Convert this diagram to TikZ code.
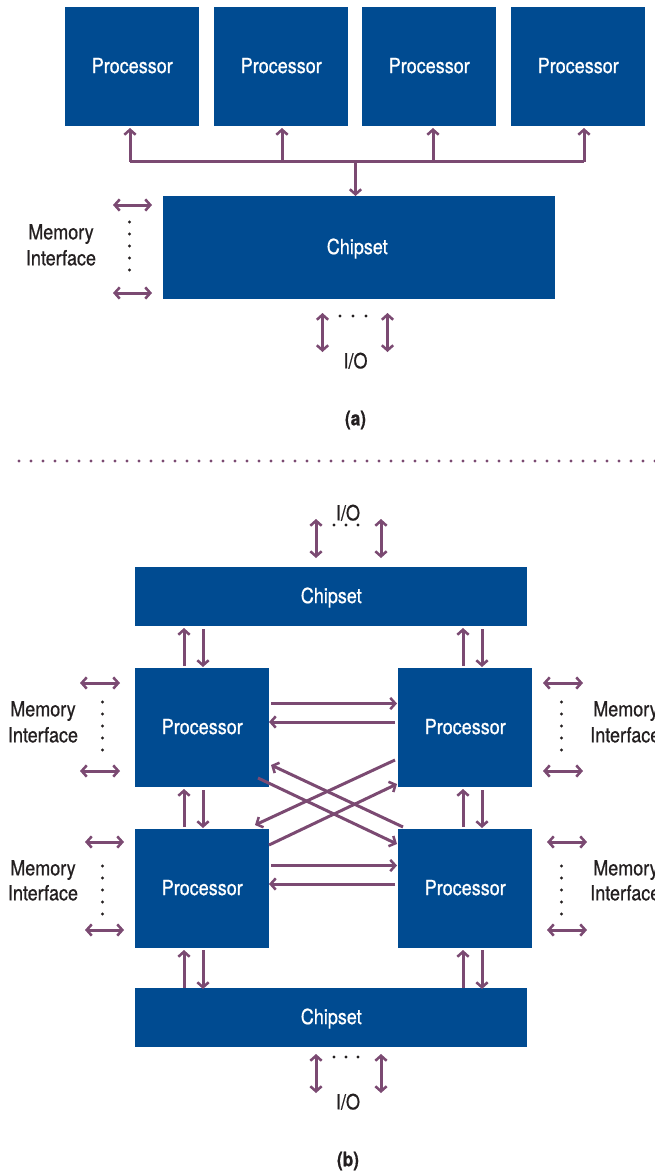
\documentclass[tikz,border=0pt]{standalone}
\usepackage{fontspec}
\setmainfont{TeX Gyre Heros}[FakeStretch=0.86,RawFeature={embolden=0.7}]
\usetikzlibrary{arrows.meta}
\definecolor{boxblue}{HTML}{004B91}
\definecolor{plum}{HTML}{7B4A72}
\definecolor{ink}{HTML}{231F20}
\tikzset{
  x=0.75pt,y=-0.75pt,
  box/.style={fill=boxblue,draw=none,text=white,inner sep=0pt,text height=9.5pt,text depth=0pt,font=\fontsize{15.7pt}{17pt}\selectfont,anchor=north west},
  lbl/.style={text=ink,inner sep=0pt,text height=9.5pt,text depth=0pt,font=\fontsize{15.7pt}{17pt}\selectfont},
  captxt/.style={text=ink,inner sep=0pt,font=\bfseries\fontsize{15pt}{17pt}\selectfont},
  link/.style={draw=plum,line width=2.25pt},
  one/.style={link,-{Straight Barb[length=3.8pt,width=8.5pt,line width=1.9pt]}},
  two/.style={link,{Straight Barb[length=3.8pt,width=8.5pt,line width=1.9pt]}-{Straight Barb[length=3.8pt,width=8.5pt,line width=1.9pt]}},
  dot/.style={circle,fill=ink,inner sep=0pt,minimum size=2.4pt},
  pdot/.style={circle,fill=plum,inner sep=0pt,minimum size=2.4pt},
}
\newcommand{\bx}[6]{\node[box,minimum width=#4*0.75pt,minimum height=#5*0.75pt] (#1) at (#2,#3) {#6};}
\newcommand{\arr}[6]{\coordinate (#1s) at (#3,#4);\coordinate (#1e) at (#5,#6);\draw[#2] (#1s) -- (#1e);}
\begin{document}
\begin{tikzpicture}
\useasboundingbox (0,0) rectangle (654,1171);
% panel (a)
\bx{pa}{65}{7}{134}{119}{Processor}
\bx{pb}{214}{7}{134}{119}{Processor}
\bx{pc}{362}{7}{134}{119}{Processor}
\bx{pd}{511}{7}{134}{119}{Processor}
\bx{ca}{163}{196}{392}{103}{\mbox{Chipset\kern3pt}}
\coordinate (busl) at (130,161.5);
\coordinate (busr) at (584,161.5);
\coordinate (busm) at (355.5,161.5);
\coordinate (busb) at (282,161.5);
\coordinate (busc) at (433,161.5);
\draw[link] (busl) -- (busr);
\coordinate (ta) at (130,128);\draw[one] (busl) -- (ta);
\coordinate (tb) at (282,128);\draw[one] (busb) -- (tb);
\coordinate (tc) at (433,128);\draw[one] (busc) -- (tc);
\coordinate (td) at (584,128);\draw[one] (busr) -- (td);
\coordinate (tm) at (355.5,196);\draw[one] (busm) -- (tm);
\arr{ma}{two}{113}{205}{152}{205}
\arr{mb}{two}{113}{293}{152}{293}
\foreach \y in {222,234,246,258,270} \node[dot] at (129.5,\y) {};
\arr{ia}{two}{322.5}{313}{322.5}{352}
\arr{ib}{two}{387.5}{313}{387.5}{352}
\foreach \x in {340,353,366} \node[dot] at (\x,316) {};
\node[lbl] (la1) at (61,233) {Memory};
\node[lbl] (la2) at (61,259) {Interface};
\node[lbl] (la3) at (355.5,362) {I/O};
\node[captxt] (la4) at (355.5,420) {(a)};
% divider
\foreach \i in {0,...,53} \node[pdot] at (19+12*\i,461) {};
% panel (b)
\bx{ct}{135}{567}{392}{59}{Chipset}
\bx{cb}{135}{988}{392}{59}{Chipset}
\bx{tl}{135}{668}{134}{119}{Processor}
\bx{tr}{398}{668}{134}{119}{Processor}
\bx{bl}{135}{829}{134}{119}{Processor}
\bx{br}{398}{829}{134}{119}{Processor}
\node[lbl] (lb1) at (348,514) {I/O};
\foreach \x in {334,346,358} \node[dot] at (\x,525) {};
\arr{ua}{two}{316}{519}{316}{558}
\arr{ub}{two}{381}{519}{381}{558}
\foreach \n/\x/\y in {a/184/0,c/463/0}{
  \arr{v1\n}{one}{\x}{666}{\x}{628}
  \arr{v3\n}{one}{\x}{827}{\x}{789}
  \arr{v5\n}{one}{\x}{988}{\x}{950}
}
\foreach \n/\x/\y in {b/203/0,d/482/0}{
  \arr{v2\n}{one}{\x}{629}{\x}{667}
  \arr{v4\n}{one}{\x}{790}{\x}{828}
  \arr{v6\n}{one}{\x}{950}{\x}{989}
}
\arr{h1}{one}{271}{703.5}{397}{703.5}
\arr{h2}{one}{395}{722}{269}{722}
\arr{h3}{one}{271}{865.5}{397}{865.5}
\arr{h4}{one}{395}{884}{269}{884}
\arr{x1}{one}{403}{827}{271}{765}
\arr{x2}{one}{395}{760}{255}{825}
\arr{x3}{one}{258}{778}{397}{844}
\arr{x4}{one}{269}{845}{397}{784}
\arr{m1}{two}{80}{683}{120}{683}
\arr{m2}{two}{80}{771}{120}{771}
\arr{m3}{two}{543}{683}{583}{683}
\arr{m4}{two}{543}{771}{583}{771}
\arr{m5}{two}{85}{842}{124}{842}
\arr{m6}{two}{85}{930}{124}{930}
\arr{m7}{two}{547}{842}{587}{842}
\arr{m8}{two}{547}{930}{587}{930}
\foreach \y in {702,714,726,738,750} {\node[dot] at (102.5,\y) {};\node[dot] at (561.5,\y) {};}
\foreach \y in {866,878,890,902,914} {\node[dot] at (102.5,\y) {};\node[dot] at (561.5,\y) {};}
\node[lbl] (m1a) at (43,710) {Memory};
\node[lbl] (m1b) at (43,736) {Interface};
\node[lbl] (m2a) at (43,869) {Memory};
\node[lbl] (m2b) at (43,894) {Interface};
\node[lbl,anchor=west] (m3a) at (593,710) {Memory};
\node[lbl,anchor=west] (m3b) at (590,736) {Interface};
\node[lbl,anchor=west] (m4a) at (593,869) {Memory};
\node[lbl,anchor=west] (m4b) at (590,894) {Interface};
\arr{ic}{two}{316}{1054}{316}{1093}
\arr{id}{two}{381}{1054}{381}{1093}
\foreach \x in {334,346,358} \node[dot] at (\x,1057) {};
\node[lbl] (lb2) at (348,1103) {I/O};
\node[captxt] (lb3) at (348,1161) {(b)};
\end{tikzpicture}
\end{document}
